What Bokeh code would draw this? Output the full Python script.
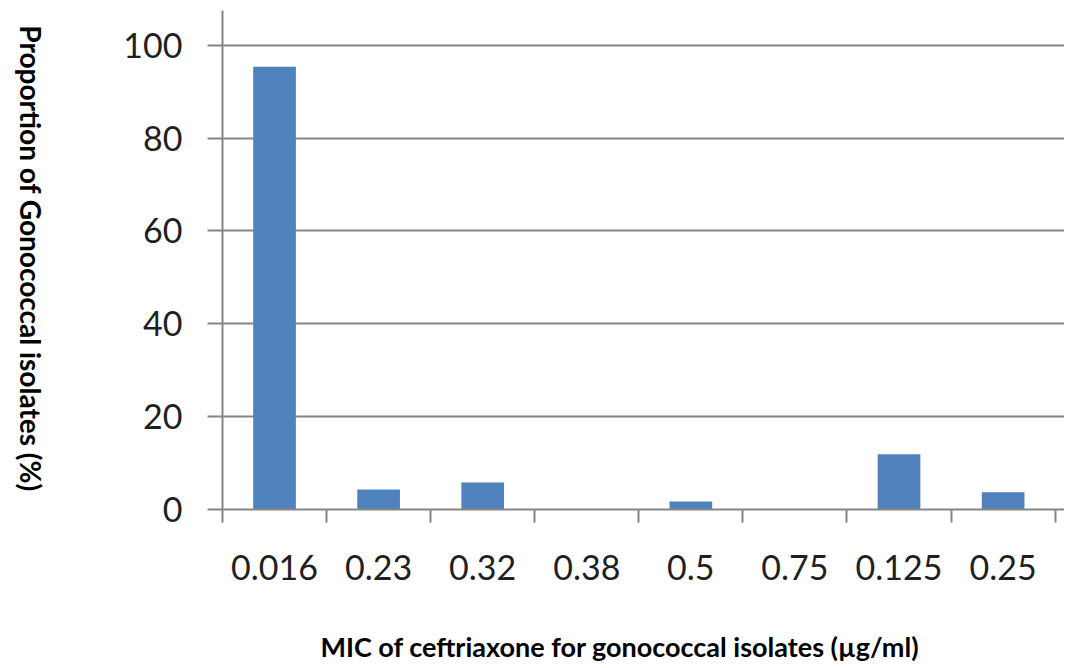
import math
from bokeh.plotting import figure
from bokeh.layouts import row, column
from bokeh.models import Range1d, FixedTicker
from bokeh.core.properties import value
from bokeh.embed import file_html
from bokeh.resources import INLINE

# ---- data ----
mic_labels = ["0.016", "0.23", "0.32", "0.38", "0.5", "0.75", "0.125", "0.25"]
proportions = [95.4, 4.3, 5.8, 0.0, 1.7, 0.0, 11.9, 3.7]
y_ticks = [0, 20, 40, 60, 80, 100]

x_title = "MIC of ceftriaxone for gonococcal isolates (µg/ml)"
y_title = "Proportion of Gonococcal isolates (%)"

n = len(mic_labels)
centers = [i + 0.5 for i in range(n)]
boundaries = [float(i) for i in range(n + 1)]

GRAY = "#868686"
TXT = "#1f1f1f"
FONT = "Lato"

LEFT_W = 60
MAIN_W = 1004
MAIN_H = 600
BOTTOM_H = 66
TOTAL_H = MAIN_H + BOTTOM_H

p = figure(
    width=MAIN_W, height=MAIN_H,
    x_range=Range1d(0, n + 0.09), y_range=Range1d(0, 107.5),
    output_backend="svg", toolbar_location=None,
    min_border_left=162, min_border_right=0, min_border_top=10, min_border_bottom=91,
)
p.outline_line_color = None
p.background_fill_color = "white"
p.border_fill_color = "white"

p.vbar(x=centers, top=proportions, width=0.41, color="#4F81BD", line_color=None)

# x axis: labels at category centres, tick marks at boundaries
xa = p.xaxis[0]
xa.ticker = FixedTicker(ticks=centers, minor_ticks=boundaries)
xa.major_label_overrides = {c: lab for c, lab in zip(centers, mic_labels)}
xa.major_tick_out = 0
xa.major_tick_in = 0
xa.minor_tick_out = 13
xa.minor_tick_in = 0
xa.minor_tick_line_color = GRAY
xa.minor_tick_line_width = 2
xa.axis_line_color = GRAY
xa.axis_line_width = 2
xa.major_label_text_font = FONT
xa.major_label_text_font_size = "34px"
xa.major_label_text_color = TXT
xa.major_label_standoff = 32

ya = p.yaxis[0]
ya.ticker = FixedTicker(ticks=y_ticks)
ya.major_tick_out = 15
ya.major_tick_in = 0
ya.major_tick_line_color = GRAY
ya.major_tick_line_width = 2
ya.minor_tick_out = 0
ya.minor_tick_in = 0
ya.axis_line_color = GRAY
ya.axis_line_width = 2
ya.major_label_text_font = FONT
ya.major_label_text_font_size = "34px"
ya.major_label_text_color = TXT
ya.major_label_standoff = 25

p.xgrid.visible = False
p.ygrid.ticker = FixedTicker(ticks=y_ticks)
p.ygrid.grid_line_color = GRAY
p.ygrid.grid_line_width = 2


def blank_fig(w, h, xr, yr):
    f = figure(width=w, height=h, x_range=xr, y_range=yr,
               output_backend="svg", toolbar_location=None,
               x_axis_location=None, y_axis_location=None,
               min_border=0, min_border_left=0, min_border_right=0,
               min_border_top=0, min_border_bottom=0)
    f.outline_line_color = None
    f.grid.visible = False
    f.background_fill_color = "white"
    f.border_fill_color = "white"
    return f


# vertical title (reads top to bottom)
yt = blank_fig(LEFT_W, TOTAL_H, Range1d(0, LEFT_W), Range1d(TOTAL_H, 0))
yt.text(x=[30], y=[258], text=[y_title], angle=-math.pi / 2,
        text_align="center", text_baseline="middle",
        text_font=value(FONT), text_font_style="bold",
        text_font_size="28px", text_color="black")

# horizontal title below the chart
xt = blank_fig(MAIN_W, BOTTOM_H, Range1d(LEFT_W, LEFT_W + MAIN_W), Range1d(BOTTOM_H, 0))
xt.text(x=[534], y=[46], text=[x_title],
        text_align="center", text_baseline="middle",
        text_font=value(FONT), text_font_style="bold",
        text_font_size="27px", text_color="black")

layout = row(yt, column(p, xt, spacing=0), spacing=0)

open("out.html", "w").write(file_html(layout, INLINE))
